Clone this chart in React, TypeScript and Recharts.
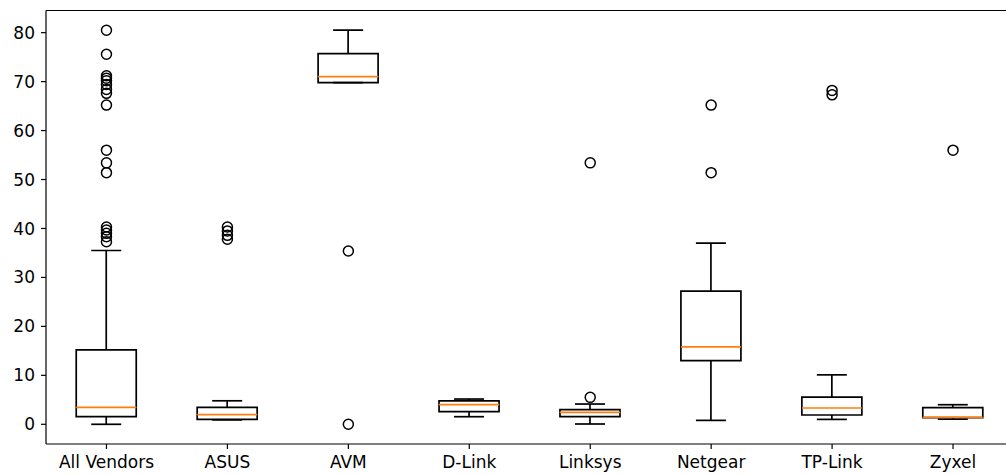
import React from "react";
import { ComposedChart, Bar, Scatter, XAxis, YAxis, ReferenceLine } from "recharts";

// vendor boxplot: whiskers, quartiles, medians
const CATEGORIES = ["All Vendors", "ASUS", "AVM", "D-Link", "Linksys", "Netgear", "TP-Link", "Zyxel"];
const WHISKER_LOW = [0, 0.9, 69.8, 1.55, 0.06, 0.8, 1.0, 1.05];
const Q1 = [1.55, 1.0, 69.8, 2.57, 1.55, 13.0, 1.9, 1.38];
const MEDIAN = [3.47, 1.96, 71.0, 4.0, 2.45, 15.8, 3.33, 1.42];
const Q3 = [15.2, 3.47, 75.7, 4.8, 2.98, 27.2, 5.57, 3.39];
const WHISKER_HIGH = [35.5, 4.8, 80.5, 5.16, 4.14, 37.0, 10.1, 4.0];

// fliers, per category
const OUTLIERS: number[][] = [
  [80.5, 75.6, 71.2, 70.7, 70.2, 69.4, 68.4, 67.6, 65.2, 56.0, 53.4, 51.4, 40.3, 39.7, 39.0, 38.3, 37.3],
  [40.3, 39.5, 38.6, 37.8],
  [35.4, 0],
  [],
  [53.4, 5.5],
  [65.2, 51.4],
  [68.2, 67.3],
  [56.0],
];

const Y_TICKS = [0, 10, 20, 30, 40, 50, 60, 70, 80];
const Y_DOMAIN: [number, number] = [-4.025, 84.525];

const data = CATEGORIES.map((name, i) => ({
  name,
  base: WHISKER_LOW[i],
  lowWhisker: Q1[i] - WHISKER_LOW[i],
  lowerBox: MEDIAN[i] - Q1[i],
  upperBox: Q3[i] - MEDIAN[i],
  highWhisker: WHISKER_HIGH[i] - Q3[i],
}));

const outlierData = CATEGORIES.flatMap((name, i) => OUTLIERS[i].map((value) => ({ name, value })));

const INK = "#000";
const LW = 1.7;
const font = { fontSize: 17, fill: "#000", fontFamily: "DejaVu Sans" };

// eslint-disable-next-line @typescript-eslint/no-explicit-any
const Empty = (_: any) => <g />;

// eslint-disable-next-line @typescript-eslint/no-explicit-any
function LowWhisker({ x, y, width, height }: any) {
  const cx = x + width / 2;
  return (
    <g stroke={INK} strokeWidth={LW}>
      <line x1={cx} x2={cx} y1={y} y2={y + height} />
      <line x1={cx - width / 4} x2={cx + width / 4} y1={y + height} y2={y + height} />
    </g>
  );
}

// eslint-disable-next-line @typescript-eslint/no-explicit-any
function LowerBox({ x, y, width, height }: any) {
  return (
    <g stroke={INK} strokeWidth={LW} fill="none">
      <polyline points={`${x},${y} ${x},${y + height} ${x + width},${y + height} ${x + width},${y}`} />
    </g>
  );
}

// eslint-disable-next-line @typescript-eslint/no-explicit-any
function UpperBox({ x, y, width, height }: any) {
  return (
    <g fill="none">
      <polyline
        stroke={INK}
        strokeWidth={LW}
        points={`${x},${y + height} ${x},${y} ${x + width},${y} ${x + width},${y + height}`}
      />
      <line x1={x} x2={x + width} y1={y + height} y2={y + height} stroke="#ff7f0e" strokeWidth={LW} />
    </g>
  );
}

// eslint-disable-next-line @typescript-eslint/no-explicit-any
function HighWhisker({ x, y, width, height }: any) {
  const cx = x + width / 2;
  return (
    <g stroke={INK} strokeWidth={LW}>
      <line x1={cx} x2={cx} y1={y} y2={y + height} />
      <line x1={cx - width / 4} x2={cx + width / 4} y1={y} y2={y} />
    </g>
  );
}

// eslint-disable-next-line @typescript-eslint/no-explicit-any
function Flier({ cx, cy }: any) {
  return <circle cx={cx} cy={cy} r={5} fill="none" stroke={INK} strokeWidth={1.5} />;
}

export default function App() {
  return (
    <div style={{ position: "absolute", left: 0, top: 0, width: 1006, height: 475, overflow: "hidden", background: "#fff" }}>
      <ComposedChart
        width={1020}
        height={475}
        data={data}
        margin={{ top: 10.5, right: 6.5, bottom: 0, left: 0 }}
        barCategoryGap="25%"
      >
        <XAxis
          dataKey="name"
          allowDuplicatedCategory={false}
          height={31}
          tick={font}
          tickSize={5}
          tickMargin={7}
          axisLine={{ stroke: INK, strokeWidth: 1.2 }}
          tickLine={{ stroke: INK, strokeWidth: 1.2 }}
          interval={0}
        />
        <YAxis
          type="number"
          domain={Y_DOMAIN}
          allowDataOverflow
          ticks={Y_TICKS}
          width={46}
          tick={font}
          tickSize={5}
          tickMargin={6}
          axisLine={{ stroke: INK, strokeWidth: 1.2 }}
          tickLine={{ stroke: INK, strokeWidth: 1.2 }}
        />
        {/* top spine */}
        <ReferenceLine y={Y_DOMAIN[1]} stroke={INK} strokeWidth={1.2} />
        <Bar dataKey="base" stackId="box" shape={<Empty />} isAnimationActive={false} />
        <Bar dataKey="lowWhisker" stackId="box" shape={<LowWhisker />} isAnimationActive={false} />
        <Bar dataKey="lowerBox" stackId="box" shape={<LowerBox />} isAnimationActive={false} />
        <Bar dataKey="upperBox" stackId="box" shape={<UpperBox />} isAnimationActive={false} />
        <Bar dataKey="highWhisker" stackId="box" shape={<HighWhisker />} isAnimationActive={false} />
        <Scatter data={outlierData} dataKey="value" shape={<Flier />} isAnimationActive={false} />
      </ComposedChart>
    </div>
  );
}
